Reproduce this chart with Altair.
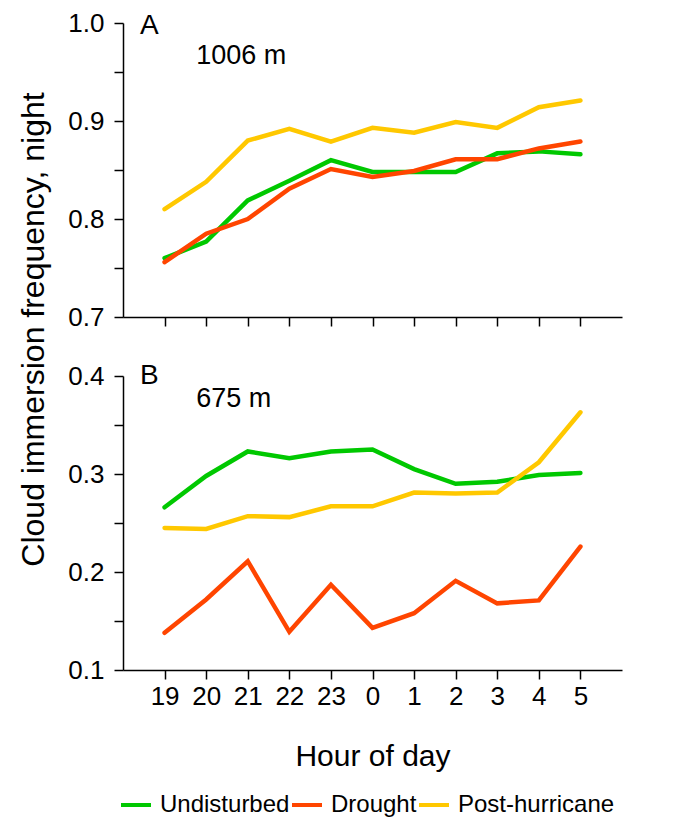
import altair as alt
import pandas as pd

hours = [19, 20, 21, 22, 23, 0, 1, 2, 3, 4, 5]
series_names = ["Undisturbed", "Drought", "Post-hurricane"]
series_colors = ["#00c800", "#ff4500", "#ffc800"]

# Panel A (1006 m)
a_undisturbed = [0.760, 0.777, 0.819, 0.839, 0.860, 0.848, 0.848, 0.848, 0.867, 0.869, 0.866]
a_drought = [0.756, 0.785, 0.800, 0.831, 0.851, 0.843, 0.849, 0.861, 0.861, 0.872, 0.879]
a_posthurricane = [0.810, 0.838, 0.880, 0.892, 0.879, 0.893, 0.888, 0.899, 0.893, 0.914, 0.921]

# Panel B (675 m)
b_undisturbed = [0.266, 0.298, 0.323, 0.316, 0.323, 0.325, 0.305, 0.290, 0.292, 0.299, 0.301]
b_drought = [0.138, 0.172, 0.211, 0.139, 0.187, 0.143, 0.158, 0.191, 0.168, 0.171, 0.226]
b_posthurricane = [0.245, 0.244, 0.257, 0.256, 0.267, 0.267, 0.281, 0.280, 0.281, 0.312, 0.363]

a_ticks = [0.7, 0.75, 0.8, 0.85, 0.9, 0.95, 1.0]
b_ticks = [0.1, 0.15, 0.2, 0.25, 0.3, 0.35, 0.4]

FONT = "Liberation Sans"


def long_df(u, d, p):
    rows = []
    for name, vals in zip(series_names, [u, d, p]):
        for i, (h, v) in enumerate(zip(hours, vals)):
            rows.append({"idx": i, "hour": h, "series": name, "value": v})
    return pd.DataFrame(rows)


hour_expr = "[" + ",".join("'%d'" % h for h in hours) + "][datum.value]"
label_expr = "(round(datum.value*100) % 10 == 0) ? format(datum.value, '.1f') : ''"


def panel(df, ydomain, yticks, letter, letter_y, site, site_y, bottom):
    x_axis = alt.Axis(
        values=list(range(len(hours))),
        labelExpr=hour_expr,
        labels=bottom,
        title="Hour of day" if bottom else None,
        titlePadding=32,
        labelPadding=4,
        tickSize=9,
        grid=False,
        labelAngle=0,
    )
    y_axis = alt.Axis(
        values=yticks,
        labelExpr=label_expr,
        tickSize=9,
        labelPadding=10,
        grid=False,
        title="Cloud immersion frequency, night" if bottom else None,
        titleFontSize=32,
        titleX=-80,
        titleY=-47,
        titleBaseline="alphabetic",
        titleAlign="center",
        titleAngle=270,
    )
    x = alt.X("idx:Q", scale=alt.Scale(domain=[-1, len(hours)], nice=False, zero=False), axis=x_axis)
    y = alt.Y("value:Q", scale=alt.Scale(domain=ydomain, nice=False, zero=False), axis=y_axis)
    lines = alt.Chart(df).mark_line(strokeWidth=4.5, strokeCap="round").encode(
        x=x,
        y=y,
        color=alt.Color(
            "series:N",
            scale=alt.Scale(domain=series_names, range=series_colors),
            legend=alt.Legend(
                title=None,
                orient="none",
                legendX=-4,
                legendY=765,
                direction="horizontal",
                symbolType="stroke",
                symbolSize=900,
                symbolStrokeWidth=4,
                labelFontSize=24,
                labelFont=FONT,
                labelColor="black",
                labelOffset=7,
                labelLimit=0,
                columnPadding=-6,
                padding=0,
            ),
        ),
        order="idx:Q",
    )
    ann = pd.DataFrame(
        [
            {"idx": -0.59, "value": letter_y, "text": letter},
            {"idx": 0.76, "value": site_y, "text": site},
        ]
    )
    letter_mark = alt.Chart(ann.iloc[[0]]).mark_text(
        align="left", baseline="alphabetic", font=FONT, fontSize=28, color="black"
    ).encode(x="idx:Q", y="value:Q", text="text:N")
    site_mark = alt.Chart(ann.iloc[[1]]).mark_text(
        align="left", baseline="alphabetic", font=FONT, fontSize=27, color="black"
    ).encode(x="idx:Q", y="value:Q", text="text:N")
    return alt.layer(lines, letter_mark, site_mark).properties(width=499, height=294)


top = panel(long_df(a_undisturbed, a_drought, a_posthurricane), [0.7, 1.0], a_ticks,
            "A", 0.989, "1006 m", 0.958, False)
bottom = panel(long_df(b_undisturbed, b_drought, b_posthurricane), [0.1, 0.4], b_ticks,
               "B", 0.392, "675 m", 0.368, True)

chart = alt.vconcat(top, bottom, spacing=59, bounds="flush").resolve_scale(
    color="shared", x="independent", y="independent"
).properties(
    padding={"left": 8, "top": 2, "right": 5, "bottom": 0}
).configure_view(stroke=None).configure_axis(
    domainColor="black",
    domainWidth=1.5,
    tickColor="black",
    tickWidth=1.5,
    labelColor="black",
    labelFont=FONT,
    labelFontSize=26,
    titleFont=FONT,
    titleFontSize=30,
    titleFontWeight="normal",
    titleColor="black",
)

chart.save("out.html", embed_options={"renderer": "svg", "actions": False})
